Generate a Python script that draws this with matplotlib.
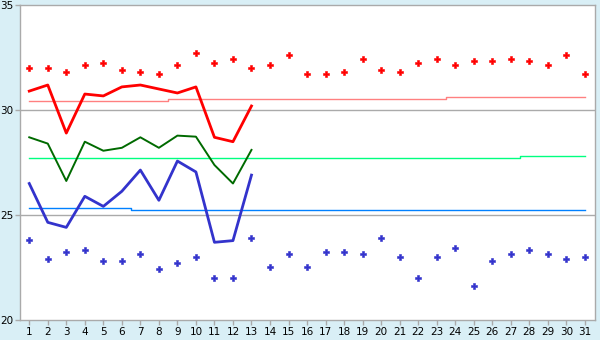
import matplotlib
matplotlib.use("Agg")
import matplotlib.pyplot as plt

days = list(range(1, 32))

# upper scatter (red) values for each day
red_points = [32.0, 32.0, 31.8, 32.13, 32.22, 31.89, 31.8, 31.7, 32.13, 32.7,
              32.22, 32.41, 32.0, 32.13, 32.6, 31.7, 31.7, 31.8, 32.41, 31.89,
              31.8, 32.22, 32.41, 32.13, 32.32, 32.32, 32.41, 32.32, 32.13, 32.6, 31.7]

# lower scatter (blue) values for each day
blue_points = [23.79, 22.89, 23.22, 23.32, 22.79, 22.79, 23.13, 22.41, 22.7, 22.98,
               21.98, 21.98, 23.89, 22.51, 23.13, 22.51, 23.22, 23.22, 23.13, 23.89,
               22.98, 21.98, 22.98, 23.41, 21.6, 22.79, 23.13, 23.32, 23.13, 22.89, 22.98]

# lines for the first 13 days
line_days = list(range(1, 14))
red_line = [30.9, 31.19, 28.9, 30.76, 30.67, 31.1, 31.19, 31.0, 30.81, 31.1, 28.7, 28.49, 30.19]
green_line = [28.7, 28.4, 26.62, 28.49, 28.06, 28.2, 28.7, 28.2, 28.78, 28.73, 27.38, 26.5, 28.1]
blue_line = [26.5, 24.65, 24.41, 25.89, 25.41, 26.13, 27.14, 25.7, 27.57, 27.05, 23.7, 23.78, 26.9]

# average lines across the month
red_avg = [30.43] * 8 + [30.52] * 15 + [30.6] * 8
green_avg = [27.7] * 27 + [27.8] * 4
blue_avg = [25.32] * 6 + [25.22] * 25

bg = "#d9eff6"
fig = plt.figure(figsize=(6, 3.4), dpi=100, facecolor=bg)
ax = fig.add_axes([20 / 600, 20 / 340, 575 / 600, 315 / 340])
ax.set_facecolor("white")

# grid lines
for y in [25, 30]:
    ax.axhline(y, color="#aaaaaa", lw=1, zorder=1)

ax.plot(days, red_avg, color="#ff8080", lw=1, drawstyle="steps-mid", zorder=2)
ax.plot(days, green_avg, color="#00ff80", lw=1, drawstyle="steps-mid", zorder=2)
ax.plot(days, blue_avg, color="#0080ff", lw=1, drawstyle="steps-mid", zorder=2)

ax.plot(line_days, red_line, color="#ff0000", lw=2, zorder=3)
ax.plot(line_days, green_line, color="#006a00", lw=1.4, zorder=3)
ax.plot(line_days, blue_line, color="#3333cc", lw=2, zorder=3)

ax.plot(days, red_points, linestyle="none", marker="P", ms=4.5, color="#ff0000", mew=0.4, zorder=4)
ax.plot(days, blue_points, linestyle="none", marker="P", ms=4.5, color="#3333cc", mew=0.4, zorder=4)

ax.set_xlim(0.5, 31.55)
ax.set_ylim(20, 35)
ax.set_xticks(days)
ax.set_yticks([20, 25, 30, 35])
ax.tick_params(colors="#aaaaaa", labelcolor="black", labelsize=7.5, length=3.5, width=1, pad=1.5)
for s in ax.spines.values():
    s.set_color("#aaaaaa")
    s.set_linewidth(1)

fig.savefig("out.png", dpi=100, facecolor=bg)
